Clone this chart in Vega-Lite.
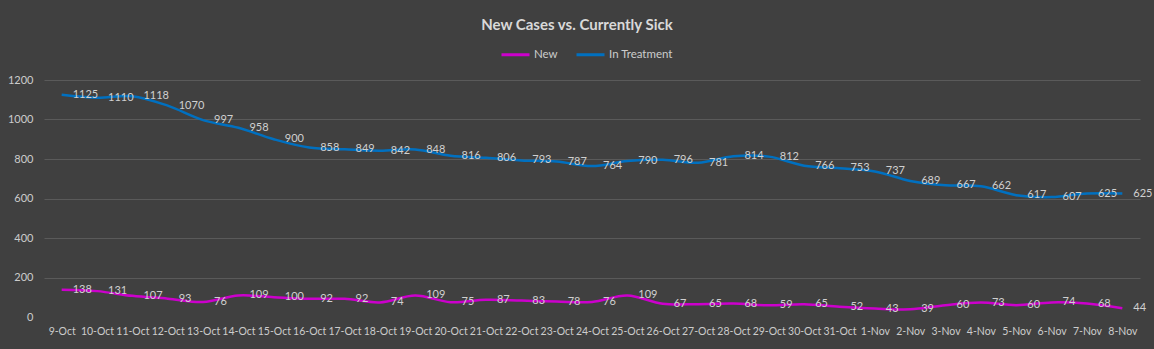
{
  "$schema": "https://vega.github.io/schema/vega-lite/v6.json",
  "autosize": {"type": "none"},
  "width": 1096,
  "height": 237,
  "padding": {"left": 44, "top": 80, "right": 14, "bottom": 32},
  "background": "#404040",
  "title": {
    "text": "New Cases vs. Currently Sick",
    "anchor": "middle",
    "dx": -15,
    "offset": 6,
    "font": "Lato",
    "fontSize": 15,
    "fontWeight": "bold",
    "color": "#d9d9d9"
  },
  "datasets": {
    "cases": [
      {"date": "9-Oct", "New": 138, "In Treatment": 1125},
      {"date": "10-Oct", "New": 131, "In Treatment": 1110},
      {"date": "11-Oct", "New": 107, "In Treatment": 1118},
      {"date": "12-Oct", "New": 93, "In Treatment": 1070},
      {"date": "13-Oct", "New": 76, "In Treatment": 997},
      {"date": "14-Oct", "New": 109, "In Treatment": 958},
      {"date": "15-Oct", "New": 100, "In Treatment": 900},
      {"date": "16-Oct", "New": 92, "In Treatment": 858},
      {"date": "17-Oct", "New": 92, "In Treatment": 849},
      {"date": "18-Oct", "New": 74, "In Treatment": 842},
      {"date": "19-Oct", "New": 109, "In Treatment": 848},
      {"date": "20-Oct", "New": 75, "In Treatment": 816},
      {"date": "21-Oct", "New": 87, "In Treatment": 806},
      {"date": "22-Oct", "New": 83, "In Treatment": 793},
      {"date": "23-Oct", "New": 78, "In Treatment": 787},
      {"date": "24-Oct", "New": 76, "In Treatment": 764},
      {"date": "25-Oct", "New": 109, "In Treatment": 790},
      {"date": "26-Oct", "New": 67, "In Treatment": 796},
      {"date": "27-Oct", "New": 65, "In Treatment": 781},
      {"date": "28-Oct", "New": 68, "In Treatment": 814},
      {"date": "29-Oct", "New": 59, "In Treatment": 812},
      {"date": "30-Oct", "New": 65, "In Treatment": 766},
      {"date": "31-Oct", "New": 52, "In Treatment": 753},
      {"date": "1-Nov", "New": 43, "In Treatment": 737},
      {"date": "2-Nov", "New": 39, "In Treatment": 689},
      {"date": "3-Nov", "New": 60, "In Treatment": 667},
      {"date": "4-Nov", "New": 73, "In Treatment": 662},
      {"date": "5-Nov", "New": 60, "In Treatment": 617},
      {"date": "6-Nov", "New": 74, "In Treatment": 607},
      {"date": "7-Nov", "New": 68, "In Treatment": 625},
      {"date": "8-Nov", "New": 44, "In Treatment": 625}
    ]
  },
  "data": {"name": "cases"},
  "transform": [
    {"fold": ["New", "In Treatment"], "as": ["series", "value"]}
  ],
  "encoding": {
    "x": {
      "field": "date",
      "type": "ordinal",
      "sort": null,
      "scale": {"type": "point", "padding": 0.5},
      "axis": {
        "title": null,
        "labelAngle": 0,
        "labelOverlap": false,
        "labelBound": false,
        "labelFlush": false,
        "labelFont": "Lato",
        "labelFontSize": 10.5,
        "labelColor": "#cccccc",
        "labelPadding": 9,
        "domain": false,
        "ticks": false,
        "grid": false
      }
    },
    "y": {
      "field": "value",
      "type": "quantitative",
      "scale": {"domain": [0, 1200], "nice": false},
      "axis": {
        "title": null,
        "values": [0, 200, 400, 600, 800, 1000, 1200],
        "format": "d",
        "labelFont": "Lato",
        "labelFontSize": 11,
        "labelColor": "#cccccc",
        "labelPadding": 11,
        "domain": false,
        "ticks": false,
        "grid": true,
        "gridColor": {"condition": {"test": "datum.value === 0", "value": "transparent"}, "value": "#5a5a5a"},
        "gridWidth": 1
      }
    }
  },
  "layer": [
    {
      "mark": {"type": "line", "interpolate": "catmull-rom", "strokeWidth": 2.5},
      "encoding": {
        "color": {
          "field": "series",
          "type": "nominal",
          "scale": {"domain": ["New", "In Treatment"], "range": ["#cc00cc", "#0070c0"]},
          "legend": {
            "title": null,
            "orient": "none",
            "direction": "horizontal",
            "legendX": 456,
            "legendY": -41,
            "symbolType": "stroke",
            "symbolSize": 784,
            "symbolStrokeWidth": 3,
            "labelFont": "Lato",
            "labelFontSize": 11.5,
            "labelColor": "#cccccc",
            "labelOffset": 3,
            "columnPadding": 12
          }
        }
      }
    },
    {
      "mark": {
        "type": "text",
        "align": "left",
        "baseline": "middle",
        "dx": 11,
        "font": "Lato",
        "fontSize": 11,
        "color": "#d0d0d0"
      },
      "encoding": {
        "text": {"field": "value", "type": "quantitative"},
        "detail": {"field": "series"}
      }
    }
  ],
  "config": {"view": {"stroke": null}}
}
